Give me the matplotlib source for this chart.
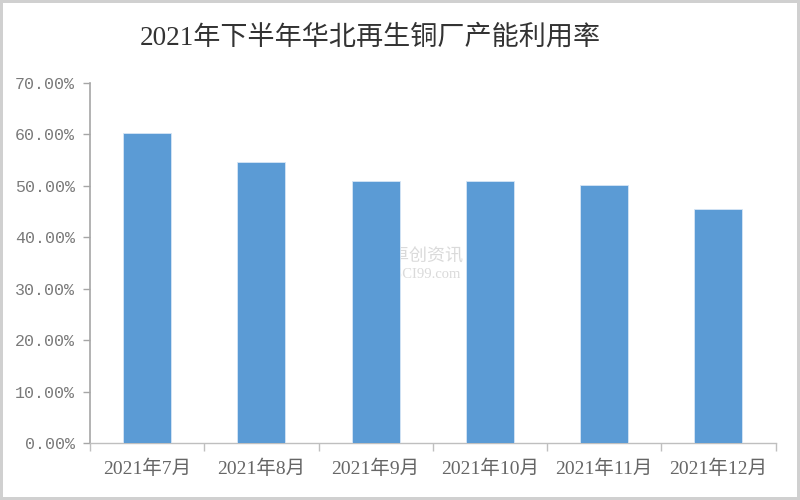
import matplotlib
matplotlib.use("Agg")
import matplotlib.pyplot as plt
from matplotlib.ticker import FixedLocator, FuncFormatter

categories = ["2021年7月", "2021年8月", "2021年9月", "2021年10月", "2021年11月", "2021年12月"]
values = [60.3, 54.7, 51.0, 51.0, 50.2, 45.5]
title = "2021年下半年华北再生铜厂产能利用率"

fam = ["Liberation Serif", "Noto Sans CJK SC", "DejaVu Sans"]
plt.rcParams["font.family"] = fam

fig = plt.figure(figsize=(8, 5), dpi=100)
fig.patch.set_facecolor("white")
fig.patch.set_edgecolor("#D0D0D0")
fig.patch.set_linewidth(3)

ax = fig.add_axes([0.1125, 0.114, 0.857, 0.72])
x = list(range(len(categories)))
ax.bar(x, values, width=0.42, color="#5B9BD5", edgecolor="#D6E6F5", linewidth=0.6, zorder=3)

ax.text(2.45, 36.5, "卓创资讯", ha="center", va="center", fontsize=13, color="#DADADA",
        family=["Noto Sans CJK SC"], zorder=1)
ax.text(2.45, 32.8, "SCI99.com", ha="center", va="center", fontsize=10.5, color="#DADADA",
        family=["Liberation Serif"], zorder=1)

ax.set_xlim(-0.5, len(categories) - 0.5)
ax.set_ylim(0, 70)
ax.set_yticks([0, 10, 20, 30, 40, 50, 60, 70])
ax.yaxis.set_major_formatter(FuncFormatter(lambda v, p: f"{v:.2f}%"))
for lab in ax.get_yticklabels():
    lab.set_family(["Liberation Mono"])

ax.set_xticks(x)
ax.set_xticklabels(categories)
ax.xaxis.set_minor_locator(FixedLocator([i - 0.5 for i in range(len(categories) + 1)]))
ax.tick_params(axis="x", which="major", length=0, pad=12, labelsize=14, labelcolor="#666666")
ax.tick_params(axis="x", which="minor", length=6, color="#BFBFBF", width=1)
ax.tick_params(axis="y", which="major", length=5, color="#A6A6A6", width=1, pad=6,
               labelsize=12, labelcolor="#7A7A7A")
for lab in ax.get_yticklabels():
    lab.set_family(["Liberation Mono"])

for s in ["top", "right"]:
    ax.spines[s].set_visible(False)
ax.spines["left"].set_color("#A6A6A6")
ax.spines["left"].set_linewidth(1.2)
ax.spines["bottom"].set_color("#BFBFBF")
ax.spines["bottom"].set_linewidth(1)

fig.text(0.4625, 0.924, title, ha="center", va="center", fontsize=19.5, color="#333333",
         family=["Liberation Serif", "Noto Sans CJK SC"])

fig.savefig("out.png", dpi=100, facecolor=fig.get_facecolor(), edgecolor=fig.get_edgecolor())
